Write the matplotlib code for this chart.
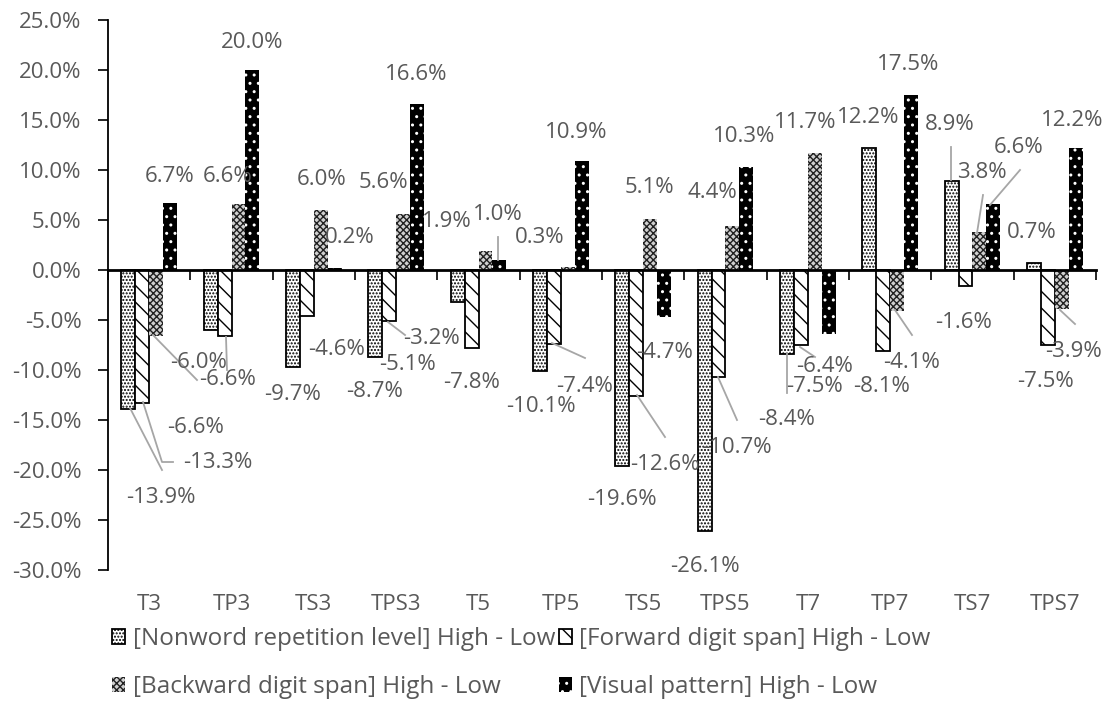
import numpy as np
import matplotlib
matplotlib.use("Agg")
import matplotlib.pyplot as plt
import matplotlib.transforms as mtransforms

plt.rcParams['font.family'] = ['Open Sans', 'DejaVu Sans']
plt.rcParams['hatch.linewidth'] = 1.0

# data (% difference, High - Low)
categories = ['T3', 'TP3', 'TS3', 'TPS3', 'T5', 'TP5', 'TS5', 'TPS5', 'T7', 'TP7', 'TS7', 'TPS7']
nonword = [-13.9, -6.0, -9.7, -8.7, -3.2, -10.1, -19.6, -26.1, -8.4, 12.2, 8.9, 0.7]
forward = [-13.3, -6.6, -4.6, -5.1, -7.8, -7.4, -12.6, -10.7, -7.5, -8.1, -1.6, -7.5]
backward = [-6.6, 6.6, 6.0, 5.6, 1.9, 0.3, 5.1, 4.4, 11.7, -4.1, 3.8, -3.9]
visual = [6.7, 20.0, 0.2, 16.6, 1.0, 10.9, -4.7, 10.3, -6.4, 17.5, 6.6, 12.2]
series_names = ['[Nonword repetition level] High - Low',
                '[Forward digit span] High - Low',
                '[Backward digit span] High - Low',
                '[Visual pattern] High - Low']

# label layout: image-pixel centre of each data label, optional leader polyline
label_pos = [
    [(161, 498), (199, 363), (293, 395), (375, 392), (431, 338), (541, 407),
     (622, 500), (705, 567), (787, 420), (868, 118), (950, 125), (1032, 233)],
    [(218, 463), (196, 428), (337, 350), (407, 365), (472, 383), (585, 387),
     (665, 465), (737, 448), (815, 387), (882, 387), (964, 323), (1046, 382)],
    [(228, 380), (228, 177), (322, 180), (383, 183), (447, 222), (540, 238),
     (649, 188), (712, 193), (805, 123), (912, 363), (982, 173), (1074, 352)],
    [(170, 177), (252, 42), (350, 238), (416, 75), (498, 215), (576, 132),
     (665, 353), (744, 137), (825, 367), (908, 65), (1019, 148), (1072, 120)],
]
leaders = [
    [(130, 408), (162, 470)],
    [(143, 402), (162, 462), (173, 462)],
    [(153, 335), (197, 380)],
    [(226, 337), (227, 370)],
    [(388, 322), (405, 335)],
    [(498, 237), (498, 260)],
    [(552, 343), (585, 358)],
    [(637, 395), (665, 437)],
    [(718, 377), (737, 420)],
    [(787, 353), (787, 393)],
    [(800, 347), (815, 357)],
    [(895, 310), (912, 335)],
    [(951, 147), (951, 180)],
    [(983, 195), (977, 233)],
    [(1020, 170), (990, 205)],
    [(1060, 310), (1075, 324)],
]

W, H = 1110, 702
fig = plt.figure(figsize=(W / 100, H / 100), dpi=100)
ax = fig.add_axes([108 / W, 1 - 570 / H, (1096 - 108) / W, 550 / H])

x = np.arange(len(categories))
width = 0.17
styles = [
    dict(facecolor='white', edgecolor='black', hatch='.....', linewidth=1.3),
    dict(facecolor='white', edgecolor='black', hatch='\\\\', linewidth=1.3),
    dict(facecolor='#d0d0d0', edgecolor='#202020', hatch='xxxxx', linewidth=0),
    dict(facecolor='black', edgecolor='white', hatch='..', linewidth=0),
]
all_vals = [nonword, forward, backward, visual]
bars = []
for k, (vals, st) in enumerate(zip(all_vals, styles)):
    b = ax.bar(x + (k - 1.5) * width, vals, width, label=series_names[k], zorder=2, **st)
    bars.append(b)

ax.set_xlim(-0.5, len(categories) - 0.5)
ax.set_ylim(-30, 25)
ax.set_yticks(np.arange(-30, 26, 5))
ax.set_yticklabels([f'{v:.1f}%' for v in np.arange(-30, 26, 5)])
ax.tick_params(axis='y', direction='out', length=7, width=1.2, colors='black',
               labelcolor='#595959', labelsize=16, pad=12)

for s in ['top', 'right']:
    ax.spines[s].set_visible(False)
ax.spines['left'].set_linewidth(1.3)
ax.spines['bottom'].set_position(('data', 0))
ax.spines['bottom'].set_linewidth(2)
ax.set_xticks(np.arange(len(categories) + 1) - 0.5)
ax.set_xticklabels([])
ax.tick_params(axis='x', direction='out', length=7, width=1.2, colors='black')

trans = mtransforms.blended_transform_factory(ax.transData, ax.transAxes)
for i, c in enumerate(categories):
    ax.text(i, -35 / 550, c, transform=trans, ha='center', va='center',
            fontsize=16, color='#595959')

inv = ax.transData.inverted()


def img2data(px, py):
    return inv.transform((px, H - py))


for vals, pos in zip(all_vals, label_pos):
    for v, (px, py) in zip(vals, pos):
        tx, ty = img2data(px, py)
        ax.text(tx, ty, f'{v:.1f}%', ha='center', va='center', fontsize=16,
                color='#595959', zorder=5, clip_on=False)

for line in leaders:
    pts = np.array([img2data(px, py) for px, py in line])
    ax.plot(pts[:, 0], pts[:, 1], color='#A6A6A6', lw=1.3, zorder=4, clip_on=False)

order = [0, 2, 1, 3]
leg = fig.legend([bars[k] for k in order], [series_names[k] for k in order],
                 loc='upper left', bbox_to_anchor=(112 / W, 1 - 627 / H),
                 ncol=2, frameon=False, fontsize=17.5, labelcolor='#595959',
                 handlelength=0.55, handleheight=0.55, handletextpad=0.3,
                 columnspacing=0.15, labelspacing=1.0, borderpad=0, borderaxespad=0)

fig.savefig('out.png', dpi=100)
